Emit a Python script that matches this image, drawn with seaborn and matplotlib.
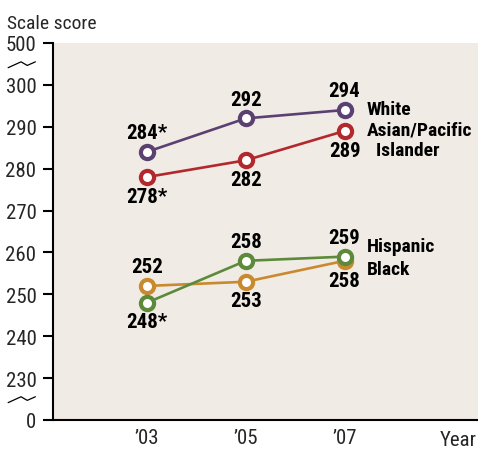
import matplotlib
matplotlib.use("Agg")
import matplotlib.pyplot as plt
from matplotlib import font_manager
import seaborn as sns
import pandas as pd

sns.set_theme(style="white")

# condensed sans for all text, first one that is installed
_installed = {f.name for f in font_manager.fontManager.ttflist}
_wanted = ["Roboto Condensed", "Archivo Narrow", "PT Sans Narrow", "Fira Sans Condensed",
           "IBM Plex Sans Condensed", "Barlow Condensed", "Sofia Sans Condensed", "DejaVu Sans"]
FONT = next(f for f in _wanted if f in _installed)
plt.rcParams["font.family"] = [FONT, "DejaVu Sans"]

years = [2003, 2005, 2007]
year_labels = ["\u201903", "\u201905", "\u201907"]
white = [284, 292, 294]
asian = [278, 282, 289]
hispanic = [248, 258, 259]
black = [252, 253, 258]
# significance flags (different from 2007)
white_star = [True, False, False]
asian_star = [True, False, False]
hispanic_star = [True, False, False]
black_star = [False, False, False]

y_ticks = [220, 230, 240, 250, 260, 270, 280, 290, 300, 310]
y_tick_labels = ["0", "230", "240", "250", "260", "270", "280", "290", "300", "500"]

series = {
    "White": (white, white_star, "#5b4172", ["above", "above", "above"]),
    "Asian/Pacific Islander": (asian, asian_star, "#b3282d", ["below", "below", "below"]),
    "Hispanic": (hispanic, hispanic_star, "#5c8a3a", ["below", "above", "above"]),
    "Black": (black, black_star, "#c98a2f", ["above", "below", "below"]),
}

rows = []
for name, (vals, _, _, _) in series.items():
    for yr, v in zip(years, vals):
        rows.append({"year": yr, "score": v, "group": name})
df = pd.DataFrame(rows)

fig = plt.figure(figsize=(4.78, 4.52), dpi=100)
fig.patch.set_facecolor("white")
ax = fig.add_axes([0.111, 0.0686, 0.889, 0.8341])
ax.set_facecolor("#f1ebe5")

FS = 15
draw_order = ["Black", "Hispanic", "Asian/Pacific Islander", "White"]
for name in draw_order:
    vals, stars, color, pos = series[name]
    sub = df[df["group"] == name]
    sns.lineplot(data=sub, x="year", y="score", ax=ax, color=color, lw=1.9,
                 marker="o", markersize=9.5, markerfacecolor="white",
                 markeredgecolor=color, markeredgewidth=3, legend=False)
    for yr, v, s, p in zip(years, vals, stars, pos):
        txt = f"{v}*" if s else f"{v}"
        off = 7 if p == "above" else -7
        ax.annotate(txt, (yr, v), xytext=(0, off), textcoords="offset points",
                    ha="center", va="bottom" if p == "above" else "top",
                    fontsize=FS, fontweight="bold", color="black")

# series names next to the last point
name_kw = dict(fontsize=FS - 1, fontweight="bold", color="black", ha="left", va="center")
ax.annotate("White", (2007, 294), xytext=(16, 1), textcoords="offset points", **name_kw)
ax.annotate("Asian/Pacific", (2007, 289), xytext=(16, 1), textcoords="offset points", **name_kw)
ax.annotate("  Islander", (2007, 289), xytext=(16, -13.5), textcoords="offset points", **name_kw)
ax.annotate("Hispanic", (2007, 259), xytext=(16, 8), textcoords="offset points", **name_kw)
ax.annotate("Black", (2007, 258), xytext=(16, -6), textcoords="offset points", **name_kw)

ax.set_xlim(2001.1, 2009.7)
ax.set_ylim(220, 310)
ax.set_xticks(years)
ax.set_xticklabels(year_labels)
ax.set_yticks(y_ticks)
ax.set_yticklabels(y_tick_labels)
ax.tick_params(axis="y", length=7, width=1.5, color="black", direction="out",
               labelsize=FS, pad=5, left=True)
ax.tick_params(axis="x", length=0, labelsize=FS, pad=6)
ax.set_xlabel("")
ax.set_ylabel("")
for side in ["top", "right"]:
    ax.spines[side].set_visible(False)
for side in ["left", "bottom"]:
    ax.spines[side].set_color("black")
    ax.spines[side].set_linewidth(1.5)

fig.text(0.014, 0.947, "Scale score", fontsize=FS - 1, ha="left", va="center")
fig.text(0.998, 0.026, "Year", fontsize=FS, ha="right", va="center")

# axis break marks
for yb in [0.856, 0.115]:
    xs = [0.017, 0.044, 0.057, 0.074]
    ys = [yb - 0.008, yb + 0.005, yb - 0.003, yb + 0.005]
    fig.add_artist(plt.Line2D(xs, ys, color="black", lw=0.9))

fig.savefig("out.png", dpi=100)
